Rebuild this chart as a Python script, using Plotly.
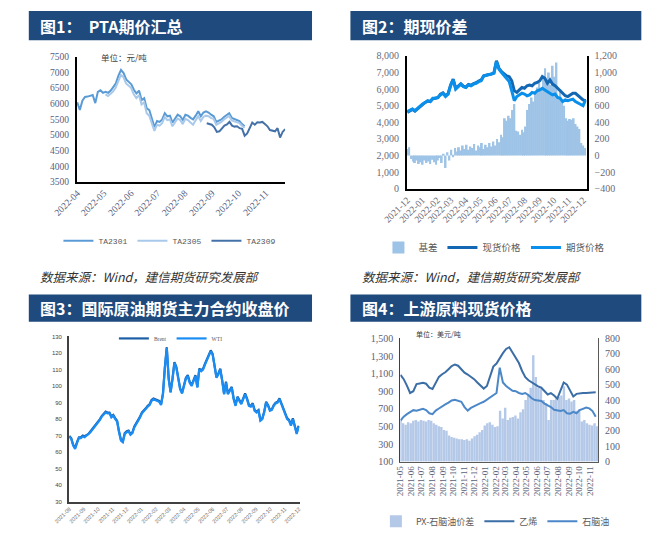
import pandas as pd
import plotly.graph_objects as go

W, H = 651, 539

# ---------------- Panel 1 : PTA futures ----------------
ta2301 = [6050, 5800, 6100, 6220, 6230, 6260, 6280, 6020, 6380, 6430, 6350, 6380, 6350, 6420,
          6520, 6650, 6900, 7080, 6980, 6780, 6700, 6620, 6450, 6330, 6420, 6120, 6180, 5850,
          5800, 5500, 5250, 5450, 5420, 5500, 5700, 5600, 5620, 5400, 5550, 5650, 5600, 5480,
          5650, 5620, 5550, 5500, 5620, 5760, 5600, 5720, 5760, 5720, 5650, 5600, 5420, 5450,
          5500, 5580, 5650, 5700, 5550, 5520, 5480, 5450, 5350, 5280]
ta2305 = [6300, 6250, 6320, 6400, 6520, 6750, 6920, 6850, 6650, 6580, 6500, 6300, 6180, 6280,
          5980, 6050, 5700, 5620, 5350, 5130, 5330, 5300, 5380, 5580, 5480, 5500, 5280, 5420,
          5530, 5480, 5350, 5520, 5480, 5400, 5330, 5470, 5600, 5450, 5580, 5620, 5600, 5540,
          5520, 5330, 5370, 5420, 5500, 5560, 5610, 5470, 5440, 5400, 5380, 5300, 5230]
ta2309 = [5380, 5350, 5330, 5250, 5100, 5120, 5230, 5300, 5340, 5420, 5300, 5270, 5280, 5220,
          5200, 4980, 5050, 5250, 5400, 5330, 5410, 5400, 5420, 5350, 5280, 5160, 5150, 5120,
          5220, 4920, 5100, 5190]
p1_names = ["TA2301", "TA2305", "TA2309"]
p1_start = ["2022-04-01", "2022-05-03", "2022-08-26"]
p1_end = ["2022-10-08", "2022-10-08", "2022-11-23"]
p1_months = ["2022-04", "2022-05", "2022-06", "2022-07", "2022-08", "2022-09", "2022-10", "2022-11"]

# ---------------- Panel 2 : basis ----------------
spot = [4600, 4700, 4780, 4680, 4820, 4980, 5080, 5200, 5280, 5250,
        5420, 5430, 5480, 5700, 5780, 5600, 5720, 6250, 6600, 6050,
        6180, 6320, 6180, 6120, 6280, 6230, 6330, 6380, 6480, 6550,
        6800, 6850, 6880, 6900, 6980, 7700, 7250, 7050, 6900, 6800,
        6750, 6500, 5900, 5800, 5950, 6100, 6050, 6200, 6250, 6200,
        6350, 6400, 6500, 6750, 6650, 6350, 6550, 6300, 6200, 6050,
        5950, 5750, 5600, 5550, 5650, 5750, 5750, 5600, 5450, 5350, 5300]
futures = [4650, 4750, 4800, 4700, 4850, 5000, 5100, 5200, 5300, 5250,
           5450, 5450, 5500, 5650, 5750, 5550, 5700, 6200, 6550, 6000,
           6150, 6300, 6150, 6100, 6250, 6200, 6300, 6350, 6450, 6500,
           6780, 6820, 6850, 6880, 6950, 7650, 7200, 7000, 6800, 6600,
           6450, 5900, 5300, 5550, 5650, 5750, 5700, 5600, 5650, 5800,
           5750, 5900, 5950, 6050, 5950, 5850, 5750, 5650, 5700, 5500,
           5450, 5250, 5350, 5300, 5350, 5400, 5250, 5150, 5100, 5000, 5350]
basis = [80, 100, -40, -70, -90, -60, -100, -80, -110, -60, -90, -70, -100, -50, -80, -110,
         -60, -30, -90, 20, -150, 40, -60, 70, -20, 90, 50, 100, 60, 120, 80, 130, 70, 110,
         90, 140, 60, 120, 100, 150, 80, 130, 100, 150, 110, 170, 120, 200, 160, 250, 220,
         450, 420, 480, 450, 550, 620, 300, 290, 250, 310, 280, 350, 550, 620, 700, 650, 750,
         820, 880, 800, 950, 1050, 900, 1000, 850, 1080, 950, 1120, 700, 800, 650, 600, 450,
         420, 440, 430, 450, 380, 350, 320, 150, 120, 90]
p2_months = ["2021-12", "2022-01", "2022-02", "2022-03", "2022-04", "2022-05", "2022-06",
             "2022-07", "2022-08", "2022-09", "2022-10", "2022-11", "2022-12"]

# ---------------- Panel 3 : crude oil ----------------
wti = [69.4, 68, 64, 62, 65.5, 68.5, 68.5, 69.5, 69, 70,
       70.4, 72, 73.5, 75, 76, 78, 79.5, 81.5, 82.5, 84,
       83.5, 83.5, 81, 82, 80, 78.5, 72, 67, 66, 71,
       72, 72.5, 70.5, 71.5, 75, 77, 78.5, 81, 83.5, 85,
       86, 87.5, 88.5, 91, 92, 91.5, 91, 90.5, 88.5, 95,
       111, 123, 104, 96, 104, 114, 111, 103, 98, 95.5,
       100, 104.5, 106, 102, 100, 103, 106, 99, 110, 109,
       110, 113, 116, 118, 121, 119, 112, 105, 107, 110,
       103, 95, 102, 95, 97, 99, 92, 88, 93, 91,
       89, 92, 95, 92, 88, 87.5, 89, 85, 84, 85,
       79, 80, 84, 90, 88, 85, 85.5, 88, 89.5, 90,
       92, 89, 86, 82, 80, 79, 76, 80, 74.5, 71, 75.5]
brent = [69.8, 68.4, 64.5, 62.6, 66, 69, 69, 70, 69.6, 70.5,
         71, 72.5, 74, 75.6, 76.5, 78.6, 80, 82, 83, 84.5,
         84, 84, 81.6, 82.5, 80.6, 79, 72.6, 67.5, 66.6, 71.5,
         72.6, 73, 71, 72, 75.6, 77.5, 79, 81.6, 84, 85.6,
         86.5, 88, 89, 91.6, 92.5, 92, 91.6, 91, 89, 95.6,
         111.5, 123.5, 104.6, 96.5, 104.6, 114.5, 111.6, 103.5, 98.6, 96,
         100.6, 105, 106.6, 102.5, 100.6, 103.5, 106.6, 99.5, 110.6, 109.5,
         110.6, 113.5, 116.6, 118.5, 121.6, 119.5, 112.6, 105.5, 107.6, 110.5,
         103.6, 95.5, 102.6, 95.5, 97.6, 99.5, 92.6, 88.5, 93.6, 91.5,
         89.6, 92.5, 95.6, 92.5, 88.6, 88, 89.6, 85.5, 84.6, 85.5,
         79.6, 80.5, 84.6, 90.5, 88.6, 85.5, 86, 88.5, 90, 90.5,
         92.6, 89.5, 86.6, 82.5, 80.6, 79.5, 76.6, 80.5, 75, 71.6, 76]
p3_months = ["2021-08", "2021-09", "2021-10", "2021-11", "2021-12", "2022-01", "2022-02",
             "2022-03", "2022-04", "2022-05", "2022-06", "2022-07", "2022-08", "2022-09",
             "2022-10", "2022-11", "2022-12"]

# ---------------- Panel 4 : upstream feedstock ----------------
ethylene = [1085, 1037, 963, 880, 900, 981, 989, 995, 985, 940,
            926, 1000, 1063, 1093, 1115, 1150, 1185, 1204, 1190, 1150,
            1111, 1090, 1065, 1037, 1000, 963, 930, 960, 1060, 1180,
            1215, 1280, 1333, 1380, 1400, 1340, 1280, 1220, 1130, 1060,
            1025, 1000, 981, 955, 940, 900, 863, 878, 852, 815,
            907, 1000, 975, 900, 841, 870, 878, 880, 881, 881, 881, 889]
naphtha = [567, 611, 640, 660, 685, 678, 690, 700, 685, 650,
           640, 680, 704, 730, 750, 770, 795, 804, 796, 780,
           720, 680, 710, 730, 752, 765, 780, 805, 825, 845,
           880, 1167, 1000, 960, 930, 905, 900, 880, 870, 880,
           855, 820, 800, 795, 790, 760, 740, 720, 690, 680,
           675, 685, 650, 645, 665, 650, 685, 700, 715, 705, 675, 610]
px_spread = [265, 250, 240, 255, 250, 265, 270, 260, 270, 265,
             260, 270, 265, 250, 240, 230, 225, 205, 200, 170,
             160, 155, 150, 145, 145, 140, 145, 135, 150, 165,
             175, 190, 205, 235, 250, 255, 240, 225, 230, 330,
             280, 350, 270, 285, 290, 300, 280, 320, 340, 400,
             440, 480, 690, 550, 480, 470, 400, 380, 270, 400,
             400, 410, 420, 430, 490, 400, 410, 390, 400, 330,
             340, 260, 270, 250, 240, 235, 250, 230]
p4_months = ["2021-05", "2021-06", "2021-07", "2021-08", "2021-09", "2021-10", "2021-11",
             "2021-12", "2022-01", "2022-02", "2022-03", "2022-04", "2022-05", "2022-06",
             "2022-07", "2022-08", "2022-09", "2022-10", "2022-11"]


# ---------------- helpers ----------------
def px(x):
    return x / W


def py(y):
    return 1 - y / H


NAVY = "#1F4A7D"
TICK = "#55607f"
SERIF = "Liberation Serif, Times New Roman, serif"
CJK = "Noto Sans CJK SC"

fig = go.Figure()

# Panel 1 traces
p1_cols = ["#5B9BD5", "#A9C9EB", "#4472A8"]
for name, vals, s, e, c in zip(p1_names, [ta2301, ta2305, ta2309], p1_start, p1_end, p1_cols):
    fig.add_trace(go.Scatter(x=pd.date_range(s, e, periods=len(vals)), y=vals, name=name,
                             mode="lines", line=dict(color=c, width=2),
                             xaxis="x", yaxis="y", legend="legend"))

# Panel 2 traces
fig.add_trace(go.Bar(x=pd.date_range("2021-12-01", "2022-12-05", periods=len(basis)), y=basis,
                     name="基差", marker=dict(color="#9DC3E6", line=dict(width=0)),
                     xaxis="x2", yaxis="y2", legend="legend2"))
fig.add_trace(go.Scatter(x=pd.date_range("2021-12-01", "2022-12-06", periods=len(spot)), y=spot,
                         name="现货价格", mode="lines",
                         line=dict(color="#1467B3", width=3), xaxis="x2", yaxis="y3", legend="legend2"))
fig.add_trace(go.Scatter(x=pd.date_range("2021-12-01", "2022-12-06", periods=len(futures)), y=futures,
                         name="期货价格", mode="lines",
                         line=dict(color="#0A8FEA", width=3), xaxis="x2", yaxis="y3", legend="legend2"))

# Panel 3 traces
fig.add_trace(go.Scatter(x=pd.date_range("2021-08-01", "2022-11-30", periods=len(brent)), y=brent,
                         name="Brent", mode="lines", line=dict(color="#1D5FA6", width=2.2),
                         xaxis="x3", yaxis="y4", legend="legend3"))
fig.add_trace(go.Scatter(x=pd.date_range("2021-08-01", "2022-11-30", periods=len(wti)), y=wti,
                         name="WTI", mode="lines", line=dict(color="#1A8DF5", width=2.2),
                         xaxis="x3", yaxis="y4", legend="legend3"))

# Panel 4 traces
fig.add_trace(go.Bar(x=pd.date_range("2021-05-01", "2022-11-22", periods=len(px_spread)), y=px_spread,
                     name="PX-石脑油价差", marker=dict(color="#B4C8E8", line=dict(width=0)),
                     xaxis="x4", yaxis="y5", legend="legend4"))
fig.add_trace(go.Scatter(x=pd.date_range("2021-05-01", "2022-11-18", periods=len(ethylene)), y=ethylene,
                         name="乙烯", mode="lines", line=dict(color="#3B6EA6", width=2),
                         xaxis="x4", yaxis="y6", legend="legend4"))
fig.add_trace(go.Scatter(x=pd.date_range("2021-05-01", "2022-11-18", periods=len(naphtha)), y=naphtha,
                         name="石脑油", mode="lines", line=dict(color="#4C88C8", width=2),
                         xaxis="x4", yaxis="y6", legend="legend4"))


def xaxis(dom, anchor, rng, fsize, angle, lc, lw, months, family=SERIF, color=TICK):
    return dict(domain=dom, anchor=anchor, type="date", range=rng,
                tickmode="array", tickvals=[m + "-01" for m in months], ticktext=months,
                tickangle=angle, tickfont=dict(family=family, size=fsize, color=color),
                showgrid=False, zeroline=False, showline=True, linecolor=lc, linewidth=lw,
                ticks="", fixedrange=True)


def yaxis(dom, anchor, rng, dtick, fsize, lc, lw, side="left", fmt="d", overlay=None,
          family=SERIF, color=TICK, tick0=0):
    d = dict(domain=dom, anchor=anchor, range=rng, dtick=dtick, tick0=tick0, tickformat=fmt,
             side=side, tickfont=dict(family=family, size=fsize, color=color),
             showgrid=False, zeroline=False, showline=True, linecolor=lc, linewidth=lw,
             ticks="", ticklabelstandoff=4)
    if overlay:
        d["overlaying"] = overlay
    return d


dom_y1 = [py(180), py(52)]
dom_y2 = [py(187), py(51)]
dom_y3 = [py(507), py(338)]
dom_y4 = [py(466), py(340)]

fig.update_layout(
    width=W, height=H, autosize=False,
    margin=dict(l=0, r=0, t=0, b=0),
    paper_bgcolor="white", plot_bgcolor="white",
    bargap=0.05, showlegend=True,
    xaxis=xaxis([px(55), px(272)], "y", ["2022-03-31 12:00", "2022-11-23"], 9.5, -45, "black", 2,
                p1_months),
    yaxis=yaxis(dom_y1, "x", [3500, 7500], 500, 9.5, "black", 2),
    xaxis2=xaxis([px(399), px(586)], "y2", ["2021-11-30 12:00", "2022-12-08"], 9.5, -45, "black", 2,
                 p2_months, color="#6a6a78"),
    yaxis2=yaxis(dom_y2, "x2", [-400, 1200], 200, 10, "black", 2, side="right", fmt=",d",
                 color="#6a6a78"),
    yaxis3=yaxis(dom_y2, "x2", [0, 8000], 1000, 10, "black", 2, side="left", fmt=",d",
                 overlay="y2", color="#6a6a78"),
    xaxis3=xaxis([px(47), px(287)], "y4", ["2021-07-31 12:00", "2022-12-02"], 5.5, -45, "#404040", 2,
                 p3_months, family="Liberation Sans Narrow, Liberation Sans, sans-serif",
                 color="#666666"),
    yaxis4=yaxis(dom_y3, "x3", [30, 130], 10, 6, "#404040", 2,
                 family="Liberation Sans Narrow, Liberation Sans, sans-serif", color="#444444"),
    xaxis4=xaxis([px(392), px(598)], "y5", ["2021-04-30 12:00", "2022-11-25"], 9, -90, "#595959", 1,
                 p4_months, color="#5a6078"),
    yaxis5=yaxis(dom_y4, "x4", [0, 800], 100, 10, "#595959", 1, side="right", color="#5a6078"),
    yaxis6=yaxis(dom_y4, "x4", [100, 1500], 200, 10, "#404040", 1, side="left", fmt=",d",
                 overlay="y5", color="#5a6078", tick0=100),
    legend=dict(x=px(152), y=py(240), xanchor="center", yanchor="middle", orientation="h",
                font=dict(family="Liberation Mono, monospace", size=8, color="#595959"),
                bgcolor="rgba(0,0,0,0)", traceorder="normal"),
    legend2=dict(x=px(490), y=py(247), xanchor="center", yanchor="middle", orientation="h",
                 font=dict(family=CJK, size=9.5, color="#595959"),
                 bgcolor="rgba(0,0,0,0)", traceorder="normal"),
    legend3=dict(x=px(153), y=py(340), xanchor="center", yanchor="middle", orientation="h",
                 font=dict(family=SERIF, size=5.5, color="#595959"),
                 bgcolor="rgba(0,0,0,0)", traceorder="normal"),
    legend4=dict(x=px(491), y=py(527), xanchor="center", yanchor="middle", orientation="h",
                 font=dict(family=CJK, size=9, color="#595959"),
                 bgcolor="rgba(0,0,0,0)", traceorder="normal"),
)

# Header bars
shapes = []
for (x0, y0, x1, y1) in [(5, 5, 300, 35), (340, 5, 643, 35), (5, 295, 300, 323), (340, 295, 643, 323)]:
    shapes.append(dict(type="rect", xref="paper", yref="paper", x0=px(x0), x1=px(x1),
                       y0=py(y1), y1=py(y0), fillcolor=NAVY, line=dict(width=0), layer="below"))
fig.update_layout(shapes=shapes)

titles = [("图1：\u00a0\u00a0PTA期价汇总", 15, 20), ("图2：期现价差", 350, 20),
          ("图3：国际原油期货主力合约收盘价", 15, 309), ("图4：上游原料现货价格", 350, 309)]
ann = []
for t, x, y in titles:
    ann.append(dict(text="<b>" + t + "</b>", x=px(x), y=py(y), xref="paper", yref="paper",
                    xanchor="left", yanchor="middle", showarrow=False,
                    font=dict(family=CJK, size=16, color="white")))
for x in (15, 350):
    ann.append(dict(text="数据来源：Wind，建信期货研究发展部", x=px(x), y=py(277), xref="paper",
                    yref="paper", xanchor="left", yanchor="middle", showarrow=False,
                    font=dict(family=CJK, size=12.5, color="#333333", style="italic")))
ann.append(dict(text="单位：元/吨", x=px(104), y=py(52), xref="paper", yref="paper",
                xanchor="center", yanchor="middle", showarrow=False,
                font=dict(family=CJK, size=8.5, color="#404040")))
ann.append(dict(text="单位：美元/吨", x=px(432), y=py(335), xref="paper", yref="paper",
                xanchor="center", yanchor="middle", showarrow=False,
                font=dict(family=CJK, size=7, color="#404040")))
fig.update_layout(annotations=ann)

fig.write_html("out.html")
